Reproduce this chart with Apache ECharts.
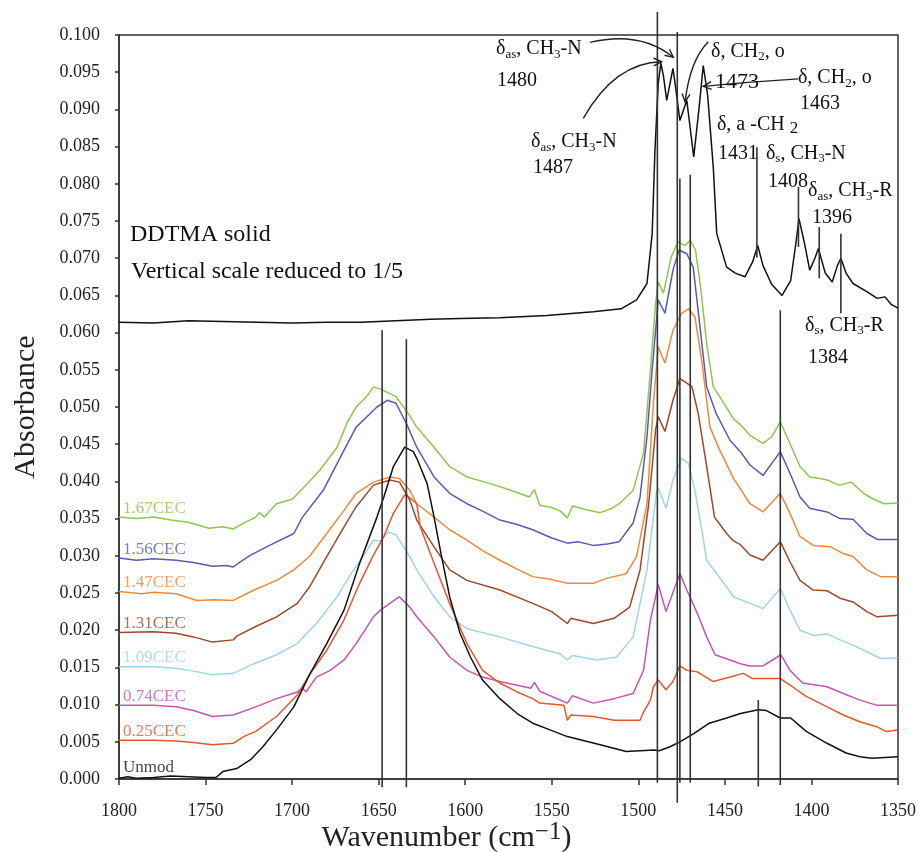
<!DOCTYPE html>
<html>
<head>
<meta charset="utf-8">
<script src="https://cdn.jsdelivr.net/npm/echarts@6/dist/echarts.min.js"></script>
<style>
  html, body { margin: 0; padding: 0; background: #fff; }
  #chart { width: 919px; height: 852px; }
</style>
</head>
<body>
<div id="chart"></div>
<script>
// ---- Spectra: [wavenumber (cm-1), absorbance] ----
const cec167 = [[1800,0.0352],[1790,0.0350],[1780,0.0352],[1770,0.0348],[1760,0.0345],[1748,0.0337],[1740,0.0339],[1734,0.0336],[1728,0.0344],[1721,0.0352],[1719,0.0358],[1716,0.0352],[1709,0.0370],[1700,0.0376],[1694,0.0390],[1684,0.0415],[1674,0.0446],[1668,0.0480],[1663,0.0500],[1657,0.0514],[1653,0.0527],[1648,0.0523],[1640,0.0514],[1632,0.0488],[1628,0.0473],[1618,0.0446],[1609,0.0420],[1599,0.0406],[1590,0.0400],[1580,0.0393],[1570,0.0385],[1563,0.0379],[1560,0.0389],[1557,0.0368],[1550,0.0365],[1545,0.0360],[1541,0.0351],[1538,0.0367],[1530,0.0362],[1522,0.0358],[1515,0.0364],[1511,0.0370],[1503,0.0388],[1497,0.0438],[1493,0.0550],[1490,0.0640],[1488.5,0.0668],[1485.5,0.0653],[1481,0.0702],[1477,0.0722],[1473,0.0717],[1470,0.0724],[1467,0.0711],[1464,0.0661],[1460.5,0.0585],[1456.7,0.0527],[1453,0.0514],[1445,0.0484],[1441,0.0476],[1435.5,0.0462],[1428,0.0451],[1423,0.0460],[1418,0.0480],[1412.4,0.0451],[1406.6,0.0420],[1401,0.0406],[1395,0.0404],[1391,0.0402],[1384,0.0395],[1377,0.0399],[1370,0.0384],[1364,0.0376],[1358,0.0370],[1350,0.0371]];
const cec156 = [[1800,0.0297],[1790,0.0294],[1780,0.0296],[1767,0.0294],[1757,0.0291],[1746,0.0286],[1738,0.0287],[1734,0.0285],[1731,0.0290],[1724,0.0301],[1713,0.0314],[1699,0.0330],[1694,0.0352],[1682,0.0388],[1670,0.0442],[1663,0.0473],[1655,0.0491],[1651,0.0500],[1645,0.0509],[1640,0.0505],[1634,0.0478],[1628,0.0446],[1618,0.0406],[1609,0.0384],[1599,0.0370],[1590,0.0360],[1580,0.0348],[1570,0.0342],[1561,0.0335],[1550,0.0324],[1541,0.0317],[1535,0.0319],[1526,0.0314],[1518,0.0316],[1511,0.0319],[1503,0.0344],[1499,0.0379],[1495,0.0460],[1492,0.0550],[1488.5,0.0644],[1484.6,0.0626],[1480,0.0684],[1476.4,0.0711],[1472,0.0706],[1468.3,0.0688],[1464.4,0.0608],[1460.5,0.0527],[1455,0.0491],[1447,0.0455],[1441,0.0440],[1435.5,0.0422],[1428,0.0408],[1418,0.0440],[1412.4,0.0411],[1406.6,0.0379],[1401,0.0364],[1391,0.0359],[1383.5,0.0350],[1376,0.0349],[1368,0.0330],[1362,0.0322],[1350,0.0322]];
const cec147 = [[1800,0.0252],[1787,0.0249],[1780,0.0251],[1767,0.0249],[1755,0.0240],[1745,0.0241],[1734,0.0240],[1722,0.0254],[1709,0.0267],[1699,0.0281],[1690,0.0299],[1680,0.0330],[1670,0.0361],[1663,0.0384],[1653,0.0399],[1643.5,0.0406],[1638,0.0404],[1632,0.0388],[1628,0.0370],[1618,0.0352],[1609,0.0335],[1599,0.0321],[1590,0.0307],[1580,0.0294],[1570,0.0282],[1561,0.0272],[1550,0.0268],[1541,0.0263],[1526,0.0263],[1518,0.0270],[1507,0.0276],[1501,0.0299],[1495,0.0370],[1491.3,0.0505],[1488.5,0.0581],[1484.6,0.0559],[1480,0.0603],[1475,0.0626],[1471,0.0632],[1467.3,0.0621],[1463.4,0.0563],[1458.6,0.0473],[1453,0.0442],[1445,0.0404],[1435.5,0.0370],[1428,0.0359],[1418,0.0384],[1412.4,0.0357],[1406.6,0.0326],[1399,0.0314],[1389,0.0312],[1381.6,0.0303],[1376,0.0299],[1368,0.0281],[1360,0.0272],[1350,0.0272]];
const cec131 = [[1800,0.0197],[1780,0.0198],[1767,0.0196],[1757,0.0191],[1746,0.0184],[1734,0.0187],[1732,0.0192],[1721,0.0205],[1709,0.0218],[1697,0.0236],[1690,0.0258],[1680,0.0299],[1670,0.0339],[1663,0.0366],[1653,0.0395],[1643.5,0.0402],[1638,0.0399],[1632,0.0375],[1628,0.0348],[1618,0.0312],[1609,0.0281],[1599,0.0267],[1580,0.0254],[1561,0.0236],[1550,0.0225],[1541,0.0209],[1539,0.0216],[1526,0.0209],[1514,0.0216],[1505,0.0231],[1499,0.0281],[1494,0.0370],[1490,0.0470],[1488.5,0.0487],[1484.6,0.0467],[1480,0.0509],[1476,0.0538],[1472,0.0532],[1469,0.0527],[1465.4,0.0491],[1460.5,0.0420],[1456,0.0352],[1449,0.0330],[1445,0.0320],[1441,0.0315],[1435.5,0.0301],[1428,0.0294],[1418,0.0319],[1412.4,0.0292],[1406.6,0.0267],[1399,0.0254],[1391,0.0253],[1383.5,0.0243],[1376,0.0238],[1368,0.0225],[1362,0.0218],[1350,0.0220]];
const cec109 = [[1800,0.0151],[1780,0.0151],[1767,0.0149],[1757,0.0145],[1746,0.0140],[1734,0.0142],[1722,0.0155],[1709,0.0167],[1697,0.0182],[1686,0.0209],[1674,0.0245],[1667,0.0272],[1659,0.0299],[1653,0.0321],[1649,0.0320],[1644.4,0.0332],[1640,0.0328],[1632,0.0299],[1628,0.0281],[1618,0.0245],[1609,0.0218],[1599,0.0202],[1580,0.0191],[1561,0.0178],[1545,0.0168],[1541,0.0160],[1538,0.0166],[1524,0.0160],[1512.5,0.0164],[1503,0.0191],[1495,0.0281],[1489.4,0.0388],[1488.5,0.0391],[1484,0.0364],[1480,0.0402],[1475,0.0431],[1471,0.0424],[1467.3,0.0388],[1463,0.0330],[1460.5,0.0294],[1449,0.0258],[1445,0.0245],[1435.5,0.0236],[1428,0.0229],[1418,0.0256],[1412.4,0.0227],[1406.6,0.0200],[1399,0.0193],[1391,0.0195],[1383.5,0.0187],[1376,0.0180],[1368,0.0171],[1360,0.0162],[1350,0.0163]];
const cec074 = [[1800,0.0099],[1780,0.0099],[1767,0.0097],[1757,0.0092],[1746,0.0084],[1734,0.0086],[1721,0.0097],[1709,0.0108],[1697,0.0117],[1694,0.0122],[1692,0.0117],[1686,0.0137],[1678,0.0146],[1670,0.0160],[1663,0.0182],[1653,0.0218],[1649,0.0227],[1643.5,0.0236],[1638,0.0245],[1632,0.0231],[1628,0.0218],[1618,0.0191],[1609,0.0164],[1599,0.0146],[1590,0.0137],[1580,0.0131],[1562,0.0122],[1560,0.0130],[1557,0.0118],[1541,0.0102],[1538,0.0112],[1526,0.0102],[1514,0.0108],[1503,0.0115],[1497,0.0146],[1493,0.0214],[1488.5,0.0261],[1484,0.0225],[1476,0.0276],[1472,0.0254],[1466,0.0223],[1460.5,0.0191],[1455.7,0.0167],[1447,0.0160],[1441,0.0155],[1435.5,0.0152],[1428,0.0152],[1417.6,0.0167],[1412.4,0.0146],[1405,0.0129],[1391,0.0124],[1381.6,0.0115],[1372,0.0106],[1362,0.0099],[1350,0.0099]];
const cec025 = [[1800,0.0052],[1780,0.0052],[1767,0.0051],[1757,0.0049],[1746,0.0046],[1734,0.0048],[1728,0.0057],[1721,0.0064],[1709,0.0084],[1697,0.0113],[1690,0.0140],[1680,0.0173],[1670,0.0214],[1661,0.0263],[1653,0.0301],[1647,0.0326],[1641.5,0.0357],[1635,0.0382],[1632,0.0378],[1628,0.0370],[1626,0.0339],[1618,0.0290],[1609,0.0236],[1599,0.0182],[1590,0.0146],[1580,0.0129],[1570,0.0117],[1561,0.0108],[1557,0.0102],[1543,0.0099],[1541,0.0079],[1539,0.0086],[1526,0.0084],[1514,0.0079],[1499,0.0079],[1497,0.0090],[1493,0.0106],[1491.3,0.0124],[1488.5,0.0133],[1484,0.0120],[1480,0.0131],[1476,0.0152],[1472,0.0146],[1466,0.0144],[1461,0.0137],[1456.7,0.0131],[1447,0.0137],[1439.4,0.0142],[1434,0.0135],[1418,0.0135],[1411,0.0124],[1403,0.0111],[1391,0.0097],[1381.6,0.0086],[1372,0.0077],[1362,0.0070],[1357,0.0064],[1350,0.0066]];
const unmod = [[1800,0.0001],[1795,0.0003],[1790,0.0001],[1780,0.0002],[1770,0.0004],[1760,0.0003],[1750,0.0002],[1744,0.0002],[1740,0.0010],[1732,0.0014],[1724,0.0026],[1717,0.0043],[1709,0.0066],[1699,0.0097],[1690,0.0140],[1680,0.0182],[1670,0.0227],[1661,0.0290],[1651,0.0352],[1647,0.0379],[1641.5,0.0420],[1635,0.0446],[1630,0.0440],[1628,0.0431],[1622,0.0397],[1618,0.0352],[1614,0.0303],[1609,0.0245],[1603,0.0196],[1597,0.0164],[1590,0.0133],[1580,0.0108],[1570,0.0088],[1561,0.0075],[1551,0.0066],[1541,0.0057],[1522,0.0046],[1507,0.0037],[1491,0.0039],[1488,0.0038],[1482,0.0043],[1476,0.0050],[1468,0.0061],[1459,0.0075],[1449,0.0082],[1441,0.0088],[1430.7,0.0093],[1426,0.0092],[1418,0.0082],[1412,0.0082],[1403,0.0064],[1391,0.0048],[1380,0.0035],[1372,0.0030],[1365,0.0028],[1350,0.0030]];
// DDTMA solid, plotted at one fifth of its absorbance plus an offset
const ddtma = [[1800,0.0614],[1780,0.0613],[1760,0.0616],[1740,0.0615],[1720,0.0614],[1700,0.0613],[1680,0.0614],[1660,0.0614],[1640,0.0616],[1620,0.0618],[1603,0.0619],[1580,0.0620],[1553,0.0623],[1526,0.0628],[1510,0.0632],[1501,0.0644],[1495,0.0666],[1492,0.0733],[1490.4,0.0845],[1488.5,0.0935],[1487,0.0962],[1485.5,0.0945],[1483.6,0.0912],[1480,0.0955],[1478.5,0.0930],[1476,0.0885],[1472,0.0912],[1468,0.0836],[1465,0.0900],[1462.5,0.0959],[1460,0.0920],[1456.7,0.0822],[1454.7,0.0733],[1449,0.0688],[1444,0.0680],[1438.4,0.0675],[1434,0.0695],[1431,0.0717],[1428,0.0690],[1423,0.0665],[1417,0.0650],[1412,0.0670],[1409,0.0720],[1407.2,0.0753],[1404,0.0720],[1401,0.0684],[1398,0.0700],[1396,0.0713],[1392,0.0680],[1388,0.0668],[1385,0.0690],[1383,0.0700],[1380,0.0680],[1376,0.0666],[1368,0.0655],[1362,0.0646],[1357.5,0.0648],[1354,0.0638],[1350,0.0633]];

const sampleNames  = ['1.67CEC', '1.56CEC', '1.47CEC', '1.31CEC', '1.09CEC', '0.74CEC', '0.25CEC', 'Unmod'];
const sampleData   = [cec167, cec156, cec147, cec131, cec109, cec074, cec025, unmod];
const sampleColors = ['#8cc84b', '#5a5ab4', '#f0883a', '#9a4a28', '#9fd6e6', '#c455b5', '#e8552e', '#111111'];

// Tick labels
const xTicks = [1800, 1750, 1700, 1650, 1600, 1550, 1500, 1450, 1400, 1350];
const yTickStep = 0.005;

// Band marker lines: [wavenumber, upper absorbance, lower absorbance]
const bandLines = [
  [1648, 0.0603, -0.0011], [1634, 0.0591, -0.0011],
  [1489, 0.1031, -0.0005], [1477.5, 0.1004, -0.0032], [1476, 0.0807, -0.0005],
  [1470, 0.0812, -0.0005], [1418, 0.0630, -0.0008], [1430.7, 0.0106, -0.0010],
  [1431.5, 0.0849, 0.0701], [1407.5, 0.0796, 0.0715], [1395.5, 0.0742, 0.0673], [1383, 0.0733, 0.0626]
];

// Curved pointers: [start wn, start A, control wn, control A, tip wn, tip A]
const pointers = [
  [1527.9, 0.0990, 1499.0, 0.1006, 1479.8, 0.0970],
  [1531.8, 0.0888, 1513.5, 0.0963, 1486.5, 0.0964],
  [1459.6, 0.0991, 1470.2, 0.0966, 1473.0, 0.0910],
  [1407.6, 0.0941, 1435.5, 0.0937, 1462.5, 0.0931]
];

// Band assignments: [wn, A, text, size]
const bandText = [
  [1582.2, 0.0981, 'δ{s|as}, CH{s|3}-N', 20], [1581.6, 0.0939, '1480', 20],
  [1562.0, 0.0856, 'δ{s|as}, CH{s|3}-N', 20], [1560.8, 0.0821, '1487', 20],
  [1458.0, 0.0978, 'δ, CH{s|2}, o', 20],     [1455.7, 0.0936, '1473', 22],
  [1407.8, 0.0942, 'δ, CH{s|2}, o', 20],     [1406.6, 0.0907, '1463', 20],
  [1454.6, 0.0879, 'δ, a -CH {t|2}', 20],     [1454.0, 0.0841, '1431', 20],
  [1426.3, 0.0841, 'δ{s|s}, CH{s|3}-N', 20], [1425.1, 0.0803, '1408', 20],
  [1402.0, 0.0790, 'δ{s|as}, CH{s|3}-R', 20], [1399.7, 0.0755, '1396', 20],
  [1403.7, 0.0609, 'δ{s|s}, CH{s|3}-R', 20], [1402.0, 0.0566, '1384', 20]
];

const FONT = 'Liberation Serif, Times New Roman, serif';
const INK = '#222';

const chart = echarts.init(document.getElementById('chart'), null, { renderer: 'canvas' });

const lineSeries = sampleNames.map((name, i) => ({
  name, type: 'line', data: sampleData[i], showSymbol: false, symbol: 'none',
  lineStyle: { color: sampleColors[i], width: 1.5 }, z: 3, silent: true
}));
lineSeries.push({
  name: 'DDTMA solid', type: 'line', data: ddtma, showSymbol: false, symbol: 'none',
  lineStyle: { color: '#111', width: 1.5 }, z: 3, silent: true
});

const curveLabels = {
  type: 'scatter', symbolSize: 0, silent: true, z: 4,
  data: sampleNames.map((name, i) => ({
    value: [1800, sampleData[i][0][1]],
    label: {
      show: true, position: 'right', distance: 4, formatter: name,
      offset: [0, name === 'Unmod' ? -11 : -9],
      color: sampleColors[i], fontFamily: FONT, fontSize: 17
    }
  }))
};

const markerSeries = {
  type: 'custom', data: bandLines, clip: false, silent: true, z: 5,
  encode: { x: 0, y: 1 },
  renderItem(params, api) {
    const a = api.coord([api.value(0), api.value(1)]);
    const b = api.coord([api.value(0), api.value(2)]);
    return { type: 'line', shape: { x1: a[0], y1: a[1], x2: b[0], y2: b[1] },
             style: { stroke: '#333', lineWidth: 1.6 } };
  }
};

const pointerSeries = {
  type: 'custom', data: pointers, clip: false, silent: true, z: 5,
  encode: { x: 0, y: 1 },
  renderItem(params, api) {
    const s = api.coord([api.value(0), api.value(1)]);
    const c = api.coord([api.value(2), api.value(3)]);
    const e = api.coord([api.value(4), api.value(5)]);
    const ang = Math.atan2(e[1] - c[1], e[0] - c[0]);
    const L = 9, w = 0.45;
    const p1 = [e[0] - L * Math.cos(ang - w), e[1] - L * Math.sin(ang - w)];
    const p2 = [e[0] - L * Math.cos(ang + w), e[1] - L * Math.sin(ang + w)];
    return {
      type: 'group',
      children: [
        { type: 'bezierCurve', shape: { x1: s[0], y1: s[1], cpx1: c[0], cpy1: c[1], x2: e[0], y2: e[1] },
          style: { stroke: '#222', lineWidth: 1.4, fill: null } },
        { type: 'polyline', shape: { points: [p1, e, p2] }, style: { stroke: '#222', lineWidth: 1.4, fill: null } }
      ]
    };
  }
};

const textSeries = {
  type: 'custom', data: bandText.map(d => [d[0], d[1]]), clip: false, silent: true, z: 6,
  encode: { x: 0, y: 1 },
  renderItem(params, api) {
    const p = api.coord([api.value(0), api.value(1)]);
    const d = bandText[params.dataIndex];
    return {
      type: 'text', x: p[0], y: p[1],
      style: {
        text: d[2], fontFamily: FONT, fontSize: d[3], fill: '#111',
        align: 'left', verticalAlign: 'middle',
        rich: {
          s: { fontFamily: FONT, fontSize: 13, fill: '#111', padding: [10, 0, 0, 0] },
          t: { fontFamily: FONT, fontSize: 17, fill: '#111', padding: [8, 0, 0, 0] }
        }
      }
    };
  }
};

chart.setOption({
  animation: false,
  backgroundColor: '#fff',
  grid: {
    left: 119, top: 35, width: 779, height: 744,
    containLabel: false, outerBoundsMode: 'none',
    show: true, borderColor: '#333', borderWidth: 1.5, backgroundColor: 'transparent'
  },
  xAxis: {
    type: 'value', inverse: true, min: 1350, max: 1800, interval: 50,
    name: 'Wavenumber (cm{sup|−1})', nameLocation: 'middle', nameGap: 41, nameMoveOverlap: false,
    nameTextStyle: {
      fontFamily: FONT, fontSize: 30, color: INK, padding: [0, 124, 0, 0],
      rich: { sup: { fontFamily: FONT, fontSize: 25, color: INK, padding: [0, 0, 12, 0] } }
    },
    axisLine: { show: true, onZero: false, lineStyle: { color: '#333', width: 1.5 } },
    axisTick: { show: true, length: 6, lineStyle: { color: '#333', width: 1.5 } },
    axisLabel: {
      fontFamily: FONT, fontSize: 18, color: INK, margin: 23,
      formatter: v => (xTicks.indexOf(v) >= 0 ? String(v) : '')
    },
    splitLine: { show: false }
  },
  yAxis: {
    type: 'value', min: 0, max: 0.1, interval: yTickStep,
    name: 'Absorbance', nameLocation: 'middle', nameGap: 78, nameRotate: 90, nameMoveOverlap: false,
    nameTextStyle: { fontFamily: FONT, fontSize: 30, color: INK },
    axisLine: { show: true, onZero: false, lineStyle: { color: '#333', width: 1.5 } },
    axisTick: { show: true, length: 4, lineStyle: { color: '#333', width: 1.5 } },
    axisLabel: { fontFamily: FONT, fontSize: 18, color: INK, margin: 19, formatter: v => v.toFixed(3) },
    splitLine: { show: false }
  },
  graphic: [
    { type: 'text', x: 130, y: 235, style: { text: 'DDTMA solid', fontFamily: FONT, fontSize: 24, fill: '#111', verticalAlign: 'middle' } },
    { type: 'text', x: 131, y: 272, style: { text: 'Vertical scale reduced to 1/5', fontFamily: FONT, fontSize: 24, fill: '#111', verticalAlign: 'middle' } }
  ],
  series: [...lineSeries, curveLabels, markerSeries, pointerSeries, textSeries]
});
</script>
</body>
</html>
